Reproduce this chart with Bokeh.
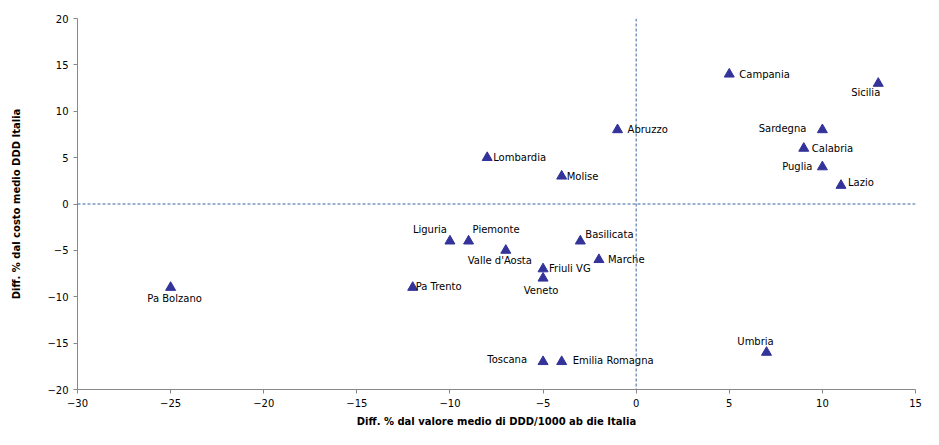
from bokeh.plotting import figure
from bokeh.models import ColumnDataSource, Span, Range1d, FixedTicker
from bokeh.embed import file_html
from bokeh.resources import INLINE
from bokeh.core.properties import value

# Data
regions = ["Campania", "Sicilia", "Sardegna", "Calabria", "Puglia", "Lazio",
           "Abruzzo", "Lombardia", "Molise", "Liguria", "Piemonte", "Valle d'Aosta",
           "Basilicata", "Marche", "Friuli VG", "Veneto", "Pa Trento", "Pa Bolzano",
           "Toscana", "Emilia Romagna", "Umbria"]
diff_ddd = [5, 13, 10, 9, 10, 11,
            -1, -8, -4, -10, -9, -7,
            -3, -2, -5, -5, -12, -25,
            -5, -4, 7]
diff_costo = [14, 13, 8, 6, 4, 2,
              8, 5, 3, -4, -4, -5,
              -4, -6, -7, -8, -9, -9,
              -17, -17, -16]
x_ticks = [-30, -25, -20, -15, -10, -5, 0, 5, 10, 15]
y_ticks = [-20, -15, -10, -5, 0, 5, 10, 15, 20]

# Label placement (screen px) - styling only
label_dx = [10, 2, -16, 8, -10, 7,
            10, 6, 5, -3, 4, -6,
            5, 9, 6, -2, 3, 4,
            -16, 11, -11]
label_dy = [0, 9, -1, 0, 0, -3,
            0, 0, 0, -12, -12, 10,
            -7, 0, 0, 12, -1, 11,
            -2, -1, -11]
label_align = ["left", "right", "right", "left", "right", "left",
               "left", "left", "left", "right", "left", "center",
               "left", "left", "left", "center", "left", "center",
               "right", "left", "center"]

src = ColumnDataSource(dict(x=diff_ddd, y=diff_costo, name=regions,
                            dx=label_dx, dy=label_dy, align=label_align))

p = figure(width=923, height=429, output_backend="svg", toolbar_location=None,
           x_range=Range1d(-30, 15), y_range=Range1d(-20, 20),
           min_border_left=77, min_border_right=8, min_border_top=18,
           min_border_bottom=34)
p.outline_line_color = None
p.grid.visible = False
p.background_fill_color = "white"
p.border_fill_color = "white"

font = "DejaVu Sans"
for ax in (p.xaxis[0], p.yaxis[0]):
    ax.axis_line_color = "#888888"
    ax.major_tick_line_color = "#888888"
    ax.major_tick_out = 4
    ax.major_tick_in = 0
    ax.minor_tick_line_color = None
    ax.major_label_text_font = font
    ax.major_label_text_font_size = "10px"
    ax.major_label_text_color = "#000000"
    ax.axis_label_text_font = font
    ax.axis_label_text_font_size = "10px"
    ax.axis_label_text_font_style = "bold"
    ax.axis_label_text_color = "#000000"

p.xaxis.ticker = FixedTicker(ticks=x_ticks)
p.yaxis.ticker = FixedTicker(ticks=y_ticks)
p.xaxis.axis_label = "Diff. % dal valore medio di DDD/1000 ab die Italia"
p.yaxis.axis_label = "Diff. % dal costo medio DDD Italia"
p.xaxis.axis_label_standoff = 6
p.yaxis.axis_label_standoff = 22
p.xaxis.major_label_standoff = 5
p.yaxis.major_label_standoff = 5

p.add_layout(Span(location=0, dimension="width", line_color="#3A64A0",
                  line_dash="3 2", line_width=1))
p.add_layout(Span(location=0, dimension="height", line_color="#3A64A0",
                  line_dash="3 2", line_width=1))

p.scatter("x", "y", source=src, marker="triangle", size=10,
          fill_color="#333399", line_color="#333399")

p.text("x", "y", text="name", source=src, x_offset="dx", y_offset="dy",
       text_align="align", text_baseline="middle",
       text_font=value(font), text_font_size="10px", text_color="#000000")

open("out.html", "w").write(file_html(p, INLINE))
